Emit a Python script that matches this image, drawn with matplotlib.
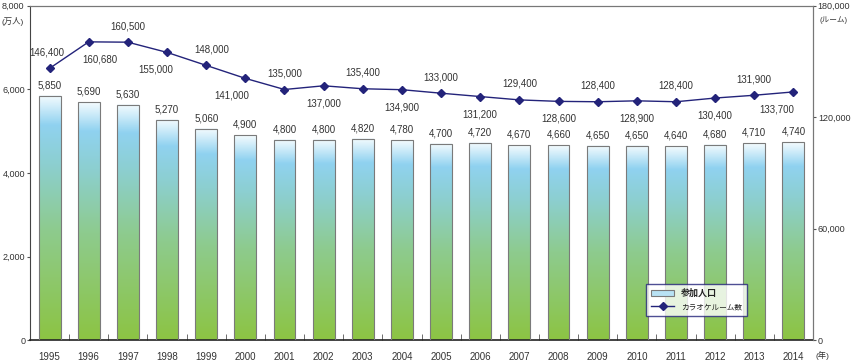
import numpy as np
import matplotlib
matplotlib.use('Agg')
import matplotlib.pyplot as plt
from matplotlib.colors import LinearSegmentedColormap
from matplotlib.patches import Patch
from matplotlib.lines import Line2D

plt.rcParams['font.family'] = ['Liberation Sans', 'Noto Sans CJK JP', 'DejaVu Sans']

years = ['1995', '1996', '1997', '1998', '1999', '2000', '2001', '2002', '2003', '2004',
         '2005', '2006', '2007', '2008', '2009', '2010', '2011', '2012', '2013', '2014']
population = [5850, 5690, 5630, 5270, 5060, 4900, 4800, 4800, 4820, 4780,
              4700, 4720, 4670, 4660, 4650, 4650, 4640, 4680, 4710, 4740]
rooms = [146400, 160680, 160500, 155000, 148000, 141000, 135000, 137000, 135400, 134900,
         133000, 131200, 129400, 128600, 128400, 128900, 128400, 130400, 131900, 133700]
# label position for the room counts: above (a) or below (b) the marker
label_side = ['a', 'b', 'a', 'b', 'a', 'b', 'a', 'b', 'a', 'b',
              'a', 'b', 'a', 'b', 'a', 'b', 'a', 'b', 'a', 'b']
label_dx = [-2, 8, 0, -8, 4, -10, 0, 0, 0, 0, 0, 0, 0, 0, 0, 0, 0, 0, 0, -12]

navy = '#23237a'
txt = '#333333'
fs = 7
tfs = 6.5

grad_cmap = LinearSegmentedColormap.from_list(
    'bar', [(0.0, '#8cc443'), (0.45, '#8ecb8e'), (0.72, '#8ccfd0'),
            (0.88, '#90d2f0'), (0.96, '#d4eefa'), (1.0, '#f4fbfe')])

fig = plt.figure(figsize=(8.52, 3.64), dpi=100)
ax = fig.add_axes([30 / 852, 24 / 364, 783 / 852, 334 / 364])
x = np.arange(len(years))
w = 0.56

grad = np.linspace(0, 1, 256).reshape(-1, 1)
for xi, h in zip(x, population):
    ax.imshow(grad, extent=[xi - w / 2, xi + w / 2, 0, h], origin='lower',
              aspect='auto', cmap=grad_cmap, zorder=2)
ax.bar(x, population, width=w, facecolor='none', edgecolor='#7a7a7a', linewidth=0.8, zorder=3)
for xi, h in zip(x, population):
    ax.annotate(f'{h:,}', (xi, h), xytext=(0, 4), textcoords='offset points',
                ha='center', va='bottom', fontsize=fs, color=txt)

ax.set_xlim(-0.5, len(years) - 0.5)
ax.set_ylim(0, 8000)
ax.set_yticks([0, 2000, 4000, 6000, 8000])
ax.set_yticklabels(['0', '2,000', '4,000', '6,000', ''], fontsize=tfs, color=txt)
ax.set_xticks(x)
ax.set_xticklabels(years, fontsize=fs, color=txt)
ax.tick_params(axis='x', length=0, pad=9)
ax.set_xticks(np.arange(0.5, len(years) - 1, 1), minor=True)
ax.tick_params(axis='x', which='minor', direction='in', length=4, color='#555555')
ax.tick_params(axis='y', direction='out', length=2.5, pad=1, color='#555555')
for s in ['top', 'right']:
    ax.spines[s].set_color('#777777')
    ax.spines[s].set_linewidth(0.8)
ax.spines['left'].set_color('#444444')
ax.spines['bottom'].set_color('#222222')
ax.spines['bottom'].set_linewidth(1.2)

ax2 = ax.twinx()
ax2.plot(x, rooms, color=navy, linewidth=1.0, marker='D', markersize=4.5,
         markerfacecolor=navy, markeredgecolor=navy, zorder=5)
for xi, v, side, dx in zip(x, rooms, label_side, label_dx):
    dy = 8 if side == 'a' else -9
    ax2.annotate(f'{v:,}', (xi, v), xytext=(dx, dy), textcoords='offset points',
                 ha='center', va='bottom' if side == 'a' else 'top', fontsize=fs, color=txt)
ax2.set_ylim(0, 180000)
ax2.set_yticks([0, 60000, 120000, 180000])
ax2.set_yticklabels(['0', '60,000', '120,000', ''], fontsize=tfs, color=txt)
ax2.tick_params(axis='y', direction='out', length=2.5, pad=1, color='#555555')
for s in ['top', 'right']:
    ax2.spines[s].set_color('#777777')
    ax2.spines[s].set_linewidth(0.8)
ax2.spines['left'].set_visible(False)
ax2.spines['bottom'].set_visible(False)

fig.text(2 / 852, 1 - 6 / 364, '8,000', fontsize=tfs, color=txt, va='center', ha='left')
fig.text(2 / 852, 1 - 22 / 364, '(万人)', fontsize=6, color=txt, va='center', ha='left')
fig.text(817 / 852, 1 - 6 / 364, '180,000', fontsize=tfs, color=txt, va='center', ha='left')
fig.text(819 / 852, 1 - 20 / 364, '(ルーム)', fontsize=5.5, color=txt, va='center', ha='left')
fig.text(816 / 852, 1 - 355 / 364, '(年)', fontsize=6, color=txt, va='center', ha='left')

handles = [Patch(facecolor='#b8e2f4', edgecolor='#7a7a7a', linewidth=0.8),
           Line2D([0], [0], color=navy, marker='D', markersize=4.5, linewidth=1.0)]
leg = ax2.legend(handles, ['参加人口', 'カラオケルーム数'], loc='lower left',
                 bbox_to_anchor=(0.782, 0.06), frameon=True, fancybox=False,
                 fontsize=6, handlelength=2.8, handletextpad=0.8,
                 borderpad=0.55, labelspacing=0.6)
leg.get_frame().set_edgecolor(navy)
leg.get_frame().set_linewidth(1.0)
for t in leg.get_texts():
    t.set_family(['Noto Sans CJK JP', 'DejaVu Sans'])
    t.set_color('#222222')
leg.get_texts()[0].set_fontweight('bold')
leg.get_texts()[0].set_fontsize(6.5)
leg.get_texts()[1].set_fontsize(5.5)
leg.set_zorder(10)

fig.savefig('out.png', dpi=100)
plt.close('all')
